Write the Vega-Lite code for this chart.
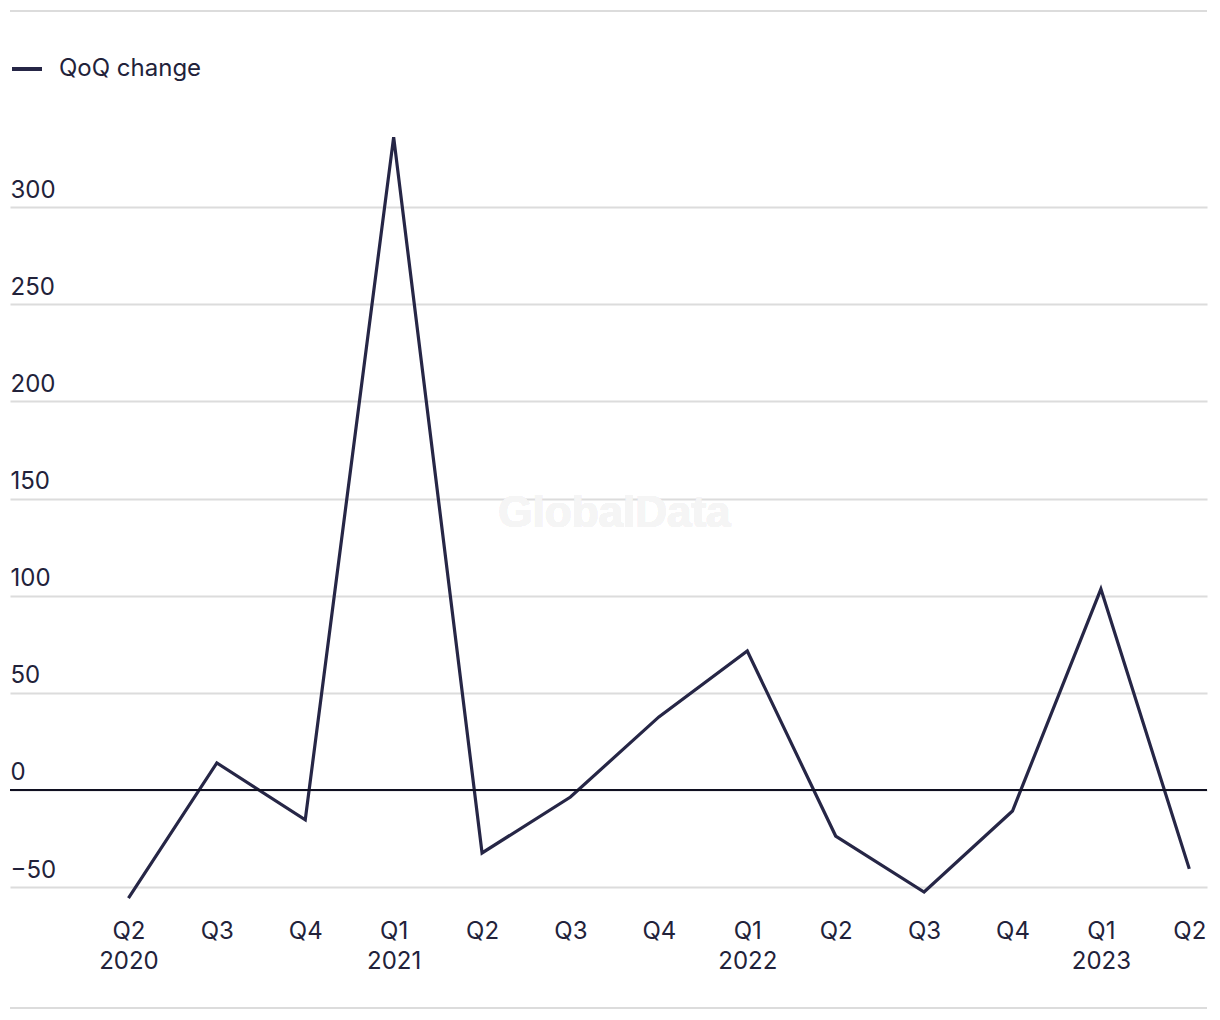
{
  "$schema": "https://vega.github.io/schema/vega-lite/v6.json",
  "width": 1197,
  "height": 997,
  "autosize": {"type": "none"},
  "padding": {"left": 10, "top": 11, "right": 13, "bottom": 12},
  "background": "white",
  "config": {
    "view": {"stroke": null},
    "font": "Inter",
    "axis": {"labelFont": "Inter", "labelFontSize": 24, "labelColor": "#22223a", "domain": false, "ticks": false, "tickSize": 0}
  },
  "data": {
    "values": [
      {"quarter": "Q2 2020", "series": "QoQ change", "value": -55.6},
      {"quarter": "Q3 2020", "series": "QoQ change", "value": 13.9},
      {"quarter": "Q4 2020", "series": "QoQ change", "value": -15.4},
      {"quarter": "Q1 2021", "series": "QoQ change", "value": 336.0},
      {"quarter": "Q2 2021", "series": "QoQ change", "value": -32.4},
      {"quarter": "Q3 2021", "series": "QoQ change", "value": -3.6},
      {"quarter": "Q4 2021", "series": "QoQ change", "value": 37.6},
      {"quarter": "Q1 2022", "series": "QoQ change", "value": 71.5},
      {"quarter": "Q2 2022", "series": "QoQ change", "value": -23.7},
      {"quarter": "Q3 2022", "series": "QoQ change", "value": -52.5},
      {"quarter": "Q4 2022", "series": "QoQ change", "value": -10.8},
      {"quarter": "Q1 2023", "series": "QoQ change", "value": 103.4},
      {"quarter": "Q2 2023", "series": "QoQ change", "value": -40.6}
    ]
  },
  "layer": [
    {
      "mark": {"type": "rule", "color": "#dcdcdc", "strokeWidth": 2},
      "encoding": {"y": {"datum": 400.9, "type": "quantitative", "scale": {"domain": [-112.2, 400.9], "nice": false, "zero": false}}}
    },
    {
      "mark": {"type": "rule", "color": "#dcdcdc", "strokeWidth": 2},
      "encoding": {"y": {"datum": -112.2, "type": "quantitative"}}
    },
    {
      "mark": {"type": "text", "text": "GlobalData", "font": "Liberation Sans", "fontWeight": "bold", "fontSize": 44, "color": "#f5f5f5", "dx": 44},
      "encoding": {
        "x": {"datum": "Q3 2021", "type": "ordinal"},
        "y": {"datum": 142, "type": "quantitative"}
      }
    },
    {
      "mark": {"type": "line", "strokeWidth": 3.2, "strokeJoin": "miter"},
      "encoding": {
        "x": {
          "field": "quarter",
          "type": "ordinal",
          "sort": null,
          "scale": {
            "type": "point",
            "padding": 0.77,
            "align": 0.87,
            "domain": ["Q2 2020", "Q3 2020", "Q4 2020", "Q1 2021", "Q2 2021", "Q3 2021", "Q4 2021", "Q1 2022", "Q2 2022", "Q3 2022", "Q4 2022", "Q1 2023", "Q2 2023"]
          },
          "axis": {
            "title": null,
            "grid": false,
            "labelAngle": 0,
            "labelAlign": "center",
            "offset": -89,
            "labelPadding": 0,
            "labelBaseline": "top",
            "labelLineHeight": 30,
            "labelExpr": "(indexof(datum.value, 'Q1') == 0 || datum.value == 'Q2 2020') ? split(datum.value, ' ') : slice(datum.value, 0, 2)"
          }
        },
        "y": {
          "field": "value",
          "type": "quantitative",
          "scale": {"domain": [-112.2, 400.9], "nice": false, "zero": false},
          "axis": {
            "title": null,
            "values": [-50, 0, 50, 100, 150, 200, 250, 300],
            "grid": true,
            "gridColor": "#dcdcdc",
            "gridWidth": 2,
            "labelAlign": "left",
            "labelBaseline": "bottom",
            "labelPadding": 0,
            "labelOffset": -5,
            "labelFlush": false
          }
        },
        "color": {
          "field": "series",
          "type": "nominal",
          "scale": {"range": ["#262646"]},
          "legend": {
            "title": null,
            "orient": "none",
            "legendX": 0,
            "legendY": 41,
            "symbolType": "stroke",
            "symbolSize": 900,
            "symbolStrokeWidth": 4,
            "labelFont": "Inter",
            "labelFontSize": 24,
            "labelColor": "#22223a",
            "labelOffset": 15
          }
        }
      }
    },
    {
      "mark": {"type": "rule", "color": "#111122", "strokeWidth": 1.5},
      "encoding": {"y": {"datum": 0, "type": "quantitative"}}
    }
  ]
}
